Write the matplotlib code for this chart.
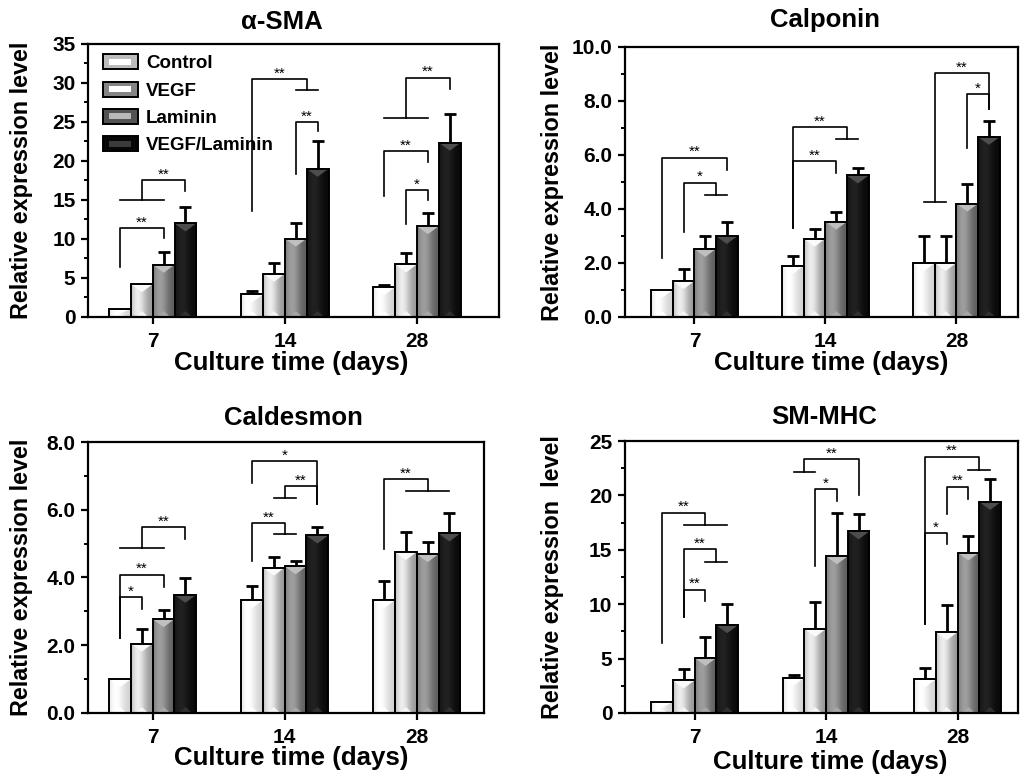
import matplotlib
matplotlib.use("Agg")
import matplotlib.pyplot as plt
import numpy as np
from matplotlib.patches import Polygon, Rectangle
from matplotlib.legend_handler import HandlerBase
from matplotlib.ticker import MultipleLocator, FormatStrFormatter

plt.rcParams['font.family'] = ['Liberation Sans', 'DejaVu Sans']
plt.rcParams['font.weight'] = 'bold'
plt.rcParams['axes.labelweight'] = 'bold'

days = ['7', '14', '28']
groups = ['Control', 'VEGF', 'Laminin', 'VEGF/Laminin']

# alpha-SMA  (rows: Control, VEGF, Laminin, VEGF/Laminin; cols: day 7, 14, 28)
sma_mean = [[1.0, 2.9, 3.85], [4.2, 5.55, 6.75], [6.7, 10.05, 11.65], [12.0, 19.0, 22.35]]
sma_err = [[0, 0.4, 0.2], [0, 1.35, 1.5], [1.6, 2.0, 1.65], [2.05, 3.6, 3.7]]
# group, left, right, top, left bottom, right bottom, label  (tuple = span of bars)
sma_sig = [(0, 0, 2, 11.4, 6.4, 10.1, '**'),
           (0, (0, 2), 3, 17.55, 15.0, 16.15, '**'),
           (1, 0, (2, 3), 30.5, 13.6, 29.05, '**'),
           (1, 2, 3, 25.0, 18.3, 23.8, '**'),
           (2, (0, 2), 3, 30.7, 25.45, 29.2, '**'),
           (2, 0, 2, 21.3, 15.5, 19.9, '**'),
           (2, 1, 2, 16.3, 11.9, 15.0, '*')]

# Calponin
cal_mean = [[1.0, 1.9, 2.0], [1.33, 2.9, 2.0], [2.52, 3.53, 4.2], [3.0, 5.24, 6.67]]
cal_err = [[0, 0.35, 1.0], [0.44, 0.36, 1.0], [0.48, 0.36, 0.74], [0.5, 0.26, 0.59]]
cal_sig = [(0, 0, 3, 5.9, 2.18, 5.44, '**'),
           (0, 1, (2, 3), 4.98, 3.14, 4.51, '*'),
           (1, 0, (2, 3), 7.04, 3.28, 6.58, '**'),
           (1, 0, 2, 5.78, 3.28, 5.33, '**'),
           (2, (0, 1), 3, 9.04, 4.24, 7.72, '**'),
           (2, 2, 3, 8.24, 6.27, 7.72, '*')]

# Caldesmon
cald_mean = [[1.0, 3.33, 3.33], [2.05, 4.29, 4.75], [2.77, 4.33, 4.69], [3.49, 5.24, 5.3]]
cald_err = [[0, 0.42, 0.57], [0.42, 0.32, 0.59], [0.26, 0.16, 0.36], [0.5, 0.25, 0.6]]
cald_sig = [(0, 0, 1, 3.41, 2.22, 3.06, '*'),
            (0, 0, 2, 4.08, 2.22, 3.72, '**'),
            (0, (0, 2), 3, 5.49, 4.87, 5.13, '**'),
            (1, 0, (1, 2), 5.61, 4.49, 5.28, '**'),
            (1, (1, 2), 3, 6.70, 6.36, 6.18, '**'),
            (1, 0, 3, 7.44, 6.8, 6.18, '*'),
            (2, 0, (1, 3), 6.90, 4.83, 6.55, '**')]

# SM-MHC
mhc_mean = [[1.0, 3.25, 3.1], [3.0, 7.73, 7.42], [5.06, 14.4, 14.75], [8.07, 16.7, 19.4]]
mhc_err = [[0, 0.28, 1.04], [1.08, 2.47, 2.55], [1.94, 4.0, 1.55], [1.93, 1.55, 2.1]]
mhc_sig = [(0, 1, 2, 11.35, 8.83, 10.28, '**'),
           (0, 1, (2, 3), 15.03, 8.83, 13.9, '**'),
           (0, 0, (1, 3), 18.4, 6.47, 17.27, '**'),
           (1, (0, 1), 3, 23.31, 22.18, 20.03, '**'),
           (1, 1, 2, 20.58, 13.5, 19.48, '*'),
           (2, 0, 1, 16.5, 8.16, 15.49, '*'),
           (2, 1, 2, 20.8, 18.25, 19.63, '**'),
           (2, 0, (2, 3), 23.56, 8.16, 22.33, '**')]

# shading per series: edge grey, centre grey, top-chevron grey
shades = [(0.82, 1.00, 1.00), (0.58, 0.93, 0.98), (0.36, 0.62, 0.75), (0.03, 0.13, 0.30)]

W = 0.165

fig = plt.figure(figsize=(10.21, 7.76), dpi=100)


def bar_x(g, i):
    return g + (i - 1.5) * W


def leg_x(g, item):
    if isinstance(item, tuple):
        return (bar_x(g, item[0]) + bar_x(g, item[1])) / 2
    return bar_x(g, item)


def panel(rect, xlim, ylim, ystep, fmt, means, errs, sig, title, title_pos,
          ylab, ylab_x, xlab_pos):
    ax = fig.add_axes(rect)
    ax.set_xlim(*xlim)
    ax.set_ylim(*ylim)
    dy_px = (ylim[1] - ylim[0]) / ax.bbox.height
    u = np.linspace(0, 1, 80)
    prof = np.exp(-((u - 0.32) / 0.38) ** 2)
    for i in range(4):
        lo, hi, tri = shades[i]
        g_row = lo + (hi - lo) * prof
        img = np.dstack([g_row, g_row, g_row])
        for g in range(3):
            x0 = bar_x(g, i) - W / 2
            h = means[i][g]
            rect_p = ax.bar(bar_x(g, i), h, W, color='none', edgecolor='black',
                            linewidth=1.4, zorder=3)[0]
            im = ax.imshow(img, extent=(x0, x0 + W, 0, h), aspect='auto',
                           interpolation='bilinear', zorder=2)
            im.set_clip_path(rect_p)
            th = min(8 * dy_px, h * 0.5)
            ax.add_patch(Polygon([(x0, h), (x0 + W, h), (x0 + W / 2, h - th)],
                                 closed=True, facecolor=str(tri), edgecolor='none',
                                 zorder=2.5))
            bh = min(6 * dy_px, h * 0.3)
            ax.add_patch(Polygon([(x0 + W * 0.2, 0), (x0 + W * 0.8, 0), (x0 + W / 2, bh)],
                                 closed=True, facecolor=str(min(1, lo * 1.4 + 0.15)),
                                 edgecolor='none', zorder=2.5))
        xs = [bar_x(g, i) for g in range(3) if errs[i][g] > 0]
        ys = [means[i][g] for g in range(3) if errs[i][g] > 0]
        es = [errs[i][g] for g in range(3) if errs[i][g] > 0]
        ax.errorbar(xs, ys, yerr=[np.zeros(len(es)), es], fmt='none', ecolor='black',
                    elinewidth=2, capsize=4, capthick=2, zorder=1)

    for g, left, right, top, lb, rb, lab in sig:
        xl = leg_x(g, left)
        xr = leg_x(g, right)
        ax.plot([xl, xl, xr, xr], [lb, top, top, rb], color='black', lw=1.2, zorder=4)
        for item, yb in ((left, lb), (right, rb)):
            if isinstance(item, tuple):
                ax.plot([bar_x(g, item[0]), bar_x(g, item[1])], [yb, yb],
                        color='black', lw=1.2, zorder=4)
        ax.annotate(lab, ((xl + xr) / 2, top), xytext=(0, 4), textcoords='offset points',
                    ha='center', va='center', fontsize=11, fontweight='normal')

    ax.set_xticks(range(3))
    ax.set_xticklabels(days)
    ax.yaxis.set_major_locator(MultipleLocator(ystep))
    ax.yaxis.set_minor_locator(MultipleLocator(ystep / 2))
    ax.yaxis.set_major_formatter(FormatStrFormatter(fmt))
    ax.tick_params(axis='both', which='major', direction='out', length=5, width=1.6,
                   labelsize=15, pad=4)
    ax.tick_params(axis='y', which='minor', direction='out', length=3, width=1.4)
    ax.tick_params(axis='x', pad=6)
    for s in ax.spines.values():
        s.set_linewidth(1.6)
    ax.text(title_pos[0], title_pos[1], title, transform=ax.transAxes, ha='center',
            va='center', fontsize=18.5)
    ax.set_ylabel(ylab, fontsize=16.8)
    ax.yaxis.label.set_va('center')
    ax.yaxis.set_label_coords(ylab_x, 0.5)
    ax.set_xlabel('Culture time (days)', fontsize=18.6)
    ax.xaxis.label.set_va('center')
    ax.xaxis.set_label_coords(*xlab_pos)
    return ax


class Swatch:
    def __init__(self, dark, light):
        self.dark = dark
        self.light = light


class SwatchHandler(HandlerBase):
    def create_artists(self, legend, orig, xd, yd, width, height, fontsize, trans):
        outer = Rectangle((-xd, -yd), width, height, facecolor=str(orig.dark),
                          edgecolor='black', lw=1.4, transform=trans)
        inner = Rectangle((-xd + width * 0.18, -yd + height * 0.3), width * 0.64,
                          height * 0.4, facecolor=str(orig.light), edgecolor='none',
                          transform=trans)
        return [outer, inner]


ax1 = panel([0.0862, 0.5915, 0.4025, 0.3518], (-0.49, 2.62), (0, 35), 5, '%d',
            sma_mean, sma_err, sma_sig, 'α-SMA', (0.472, 1 + 22 / 273),
            'Relative expression level', -0.162, (0.495, -0.168))
ax2 = panel([0.6121, 0.5915, 0.385, 0.348], (-0.53, 2.47), (0, 10), 2, '%.1f',
            cal_mean, cal_err, cal_sig, 'Calponin', (0.509, 1 + 27 / 270),
            'Relative expression level', -0.184, (0.524, -0.17))
ax3 = panel([0.0862, 0.0812, 0.3879, 0.3492], (-0.49, 2.51), (0, 8), 2, '%.1f',
            cald_mean, cald_err, cald_sig, 'Caldesmon', (0.518, 1 + 24 / 271),
            'Relative expression level', -0.168, (0.513, -0.166))
ax4 = panel([0.6121, 0.0812, 0.385, 0.3505], (-0.53, 2.46), (0, 25), 5, '%d',
            mhc_mean, mhc_err, mhc_sig, 'SM-MHC', (0.506, 1 + 24 / 272),
            'Relative expression  level', -0.184, (0.522, -0.18))

handles = [Swatch(s[0] * 0.9, min(1.0, s[1] + 0.1)) for s in shades]
ax1.legend(handles, groups, handler_map={Swatch: SwatchHandler()}, loc='upper left',
           bbox_to_anchor=(0.018, 0.99), frameon=False, fontsize=13.5,
           handlelength=1.85, handleheight=0.85, labelspacing=0.5, handletextpad=0.45,
           borderaxespad=0)

fig.savefig('out.png', dpi=100)
